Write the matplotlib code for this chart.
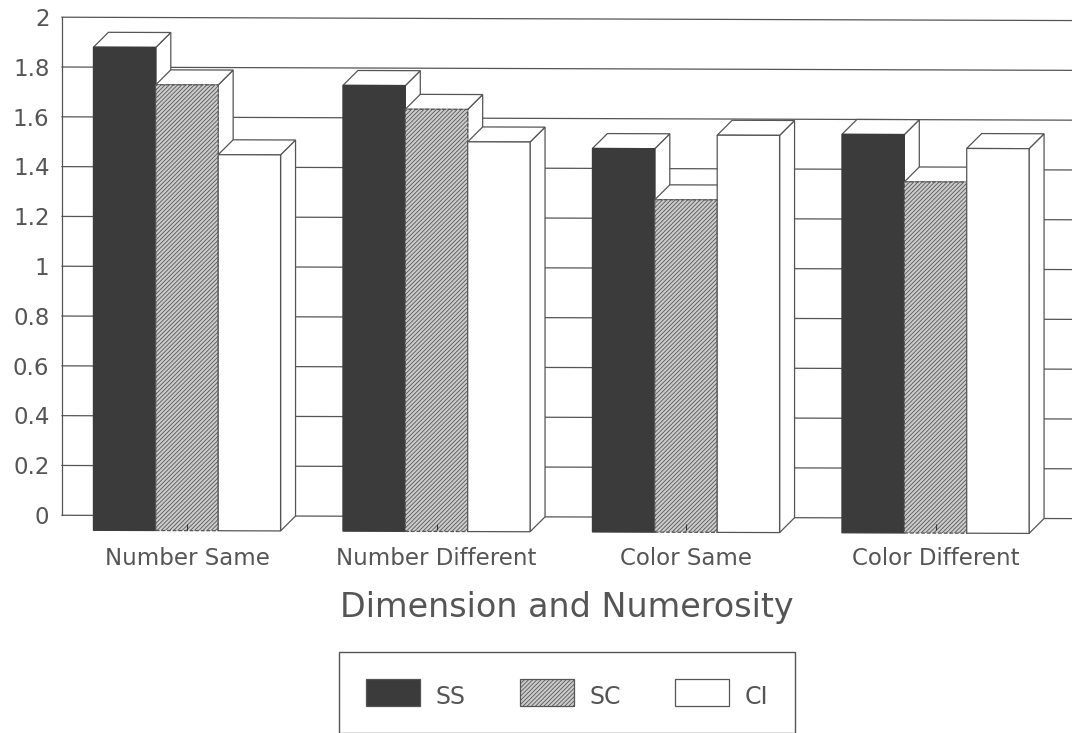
import matplotlib
matplotlib.use("Agg")
import matplotlib.pyplot as plt
from matplotlib.patches import Patch
from matplotlib.transforms import Affine2D

# values read against the back wall gridlines
groups = ["Number Same", "Number Different", "Color Same", "Color Different"]
ss_values = [1.94, 1.79, 1.54, 1.60]
sc_values = [1.79, 1.695, 1.335, 1.41]
ci_values = [1.51, 1.565, 1.595, 1.545]
y_ticks = [0, 0.2, 0.4, 0.6, 0.8, 1, 1.2, 1.4, 1.6, 1.8, 2]
y_labels = ["0", "0.2", "0.4", "0.6", "0.8", "1", "1.2", "1.4", "1.6", "1.8", "2"]
series_names = ["SS", "SC", "CI"]

ink = "#555555"
dark = "#3b3b3b"
plt.rcParams["font.family"] = "DejaVu Sans"
plt.rcParams["hatch.linewidth"] = 0.6
plt.rcParams["hatch.color"] = "#808080"

fig = plt.figure(figsize=(10.72, 7.33), dpi=100, facecolor="white")
ax = fig.add_axes([62 / 1072, 1 - 530 / 733, 1010 / 1072, 513 / 733])

# bar width and 3D depth in data units
bar_w = 0.25
depth_x = 0.06
depth_y = 0.06

ax.set_xlim(-0.501, 3.547)
ax.set_ylim(-depth_y, 2)

# the scan is rotated a little, everything slopes down to the right
tilt = ax.transData + Affine2D().skew_deg(0, -0.19)

for v in y_ticks:
    ax.plot([-0.501, 3.6], [v, v], color=ink, lw=0.9, transform=tilt, zorder=1, clip_on=False)

styles = [
    {"facecolor": dark, "hatch": None, "ls": "-"},
    {"facecolor": "#cccccc", "hatch": "////////", "ls": (0, (3, 1.5))},
    {"facecolor": "white", "hatch": None, "ls": "-"},
]

z = 2
for g in range(len(groups)):
    for s, values in enumerate([ss_values, sc_values, ci_values]):
        left = g + (s - 1.5) * bar_w
        right = left + bar_w
        top = values[g] - depth_y
        # side and top faces
        ax.fill([right, right + depth_x, right + depth_x, right],
                [-depth_y, 0, values[g], top],
                facecolor="white", edgecolor=ink, lw=0.9, transform=tilt, zorder=z, clip_on=False)
        ax.fill([left, left + depth_x, right + depth_x, right],
                [top, values[g], values[g], top],
                facecolor="white", edgecolor=ink, lw=0.9, transform=tilt, zorder=z, clip_on=False)
        ax.bar(left, values[g], width=bar_w, bottom=-depth_y, align="edge",
               facecolor=styles[s]["facecolor"], hatch=styles[s]["hatch"],
               edgecolor=dark if s == 0 else ink, lw=0.9, ls=styles[s]["ls"],
               transform=tilt, zorder=z + 1, clip_on=False)
        z += 2

for name in ["top", "right", "bottom"]:
    ax.spines[name].set_visible(False)
ax.spines["left"].set_bounds(0, 2)
ax.spines["left"].set_color(ink)
ax.spines["left"].set_linewidth(0.9)

ax.set_yticks(y_ticks)
ax.set_yticklabels(y_labels)
ax.set_xticks(range(len(groups)))
ax.set_xticklabels(groups)
ax.xaxis.set_zorder(100)
ax.tick_params(axis="y", length=0, pad=9, labelsize=16.5, labelcolor=ink)
ax.tick_params(axis="x", direction="in", length=4, width=0.8, color="#333333", pad=12,
               labelsize=16.5, labelcolor=ink)
ax.set_xlabel("Dimension and Numerosity", fontsize=24, color=ink, labelpad=15)

handles = [Patch(facecolor=styles[i]["facecolor"], hatch=styles[i]["hatch"],
                 edgecolor=ink, lw=0.9, label=series_names[i]) for i in range(3)]
leg = fig.legend(handles=handles, ncol=3, loc="lower left",
                 bbox_to_anchor=(339 / 1072, 0), bbox_transform=fig.transFigure,
                 frameon=True, fancybox=False, edgecolor=ink, framealpha=1,
                 fontsize=17, labelcolor=ink, borderaxespad=0, borderpad=1.15,
                 handlelength=2.3, handleheight=1.35, handletextpad=0.64, columnspacing=2.3)
# labels sit a bit lower than the swatches
for t in leg.get_texts():
    t.set_y(-4)

fig.savefig("out.png", dpi=100)
